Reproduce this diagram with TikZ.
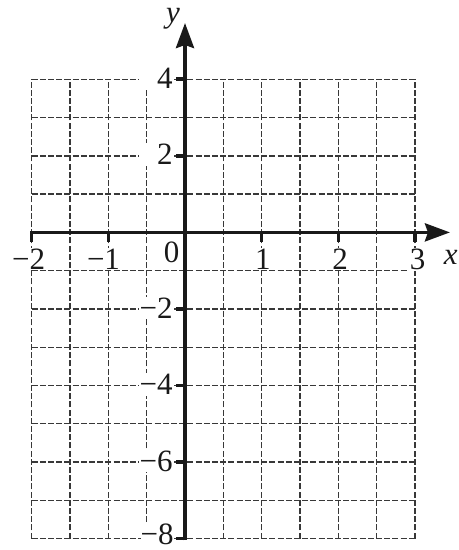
\documentclass[tikz,border=0pt]{standalone}
\usepackage{fontspec}
\setmainfont{Liberation Serif}
\usetikzlibrary{arrows.meta}
\tikzset{
  gridline/.style={line width=0.7pt, black!78, dash pattern=on 3pt off 1.1pt},
  axisline/.style={line width=1.8pt, black!90, line cap=butt,
    -{Stealth[length=12.5pt,width=9pt,inset=1.5pt]}},
  tickline/.style={line width=1.8pt, black!90, line cap=butt},
  numlab/.style={font=\fontsize{15.5}{18}\selectfont, inner sep=0.5pt, fill=white, text=black!90},
  ylab/.style={numlab, anchor=east},
  varlab/.style={font=\fontsize{15.5}{18}\selectfont\itshape, inner sep=0pt, text=black!90}
}
\begin{document}
\begin{tikzpicture}[x=38.335pt, y=19.14pt]
\useasboundingbox (-2.413,-8.297) rectangle (3.561,6.071);
% grid
\draw[gridline] (-2,-8) grid[xstep=0.5, ystep=1] (3,4);
% named points
\coordinate (xs) at (-2,0);
\coordinate (xe) at (3.456,0);
\coordinate (ys) at (0,-8);
\coordinate (ye) at (0,5.47);
% ticks on x axis
\foreach \k in {-2,-1,1,2,3} {
  \draw[tickline] (\k,0.024) -- ++(0,-5.4pt);
}
% ticks on y axis
\foreach \k in {4,2,-2,-4,-6,-8} {
  \draw[tickline] (0.012,\k) -- ++(-5.2pt,0);
}
% axes
\draw[axisline] (xs) -- (xe);
\draw[axisline] ([yshift=-0.9pt]ys) -- (ye);
% labels x axis
\node[numlab] (lxm2) at (-2.041,-0.70) {−2};
\node[numlab] (lxm1) at (-1.063,-0.70) {−1};
\node[numlab, fill=none] (lx0) at (-0.176,-0.525) {0};
\node[numlab] (lx1) at (1.017,-0.70) {1};
\node[numlab] (lx2) at (2.022,-0.70) {2};
\node[numlab] (lx3) at (3.034,-0.70) {3};
% labels y axis
\node[ylab] (ly4) at (-0.143,4.03) {\phantom{−}4};
\node[ylab] (ly2) at (-0.143,2.03) {\phantom{−}2};
\node[ylab] (lym2) at (-0.143,-1.97) {−2};
\node[ylab] (lym4) at (-0.143,-3.97) {−4};
\node[ylab] (lym6) at (-0.143,-5.97) {−6};
\node[ylab, inner sep=0pt] (lym8) at (-0.143,-7.90) {−8};
% variable labels
\node[varlab] (vy) at (-0.157,5.58) {y};
\node[varlab] (vx) at (3.465,-0.643) {x};
\end{tikzpicture}
\end{document}
